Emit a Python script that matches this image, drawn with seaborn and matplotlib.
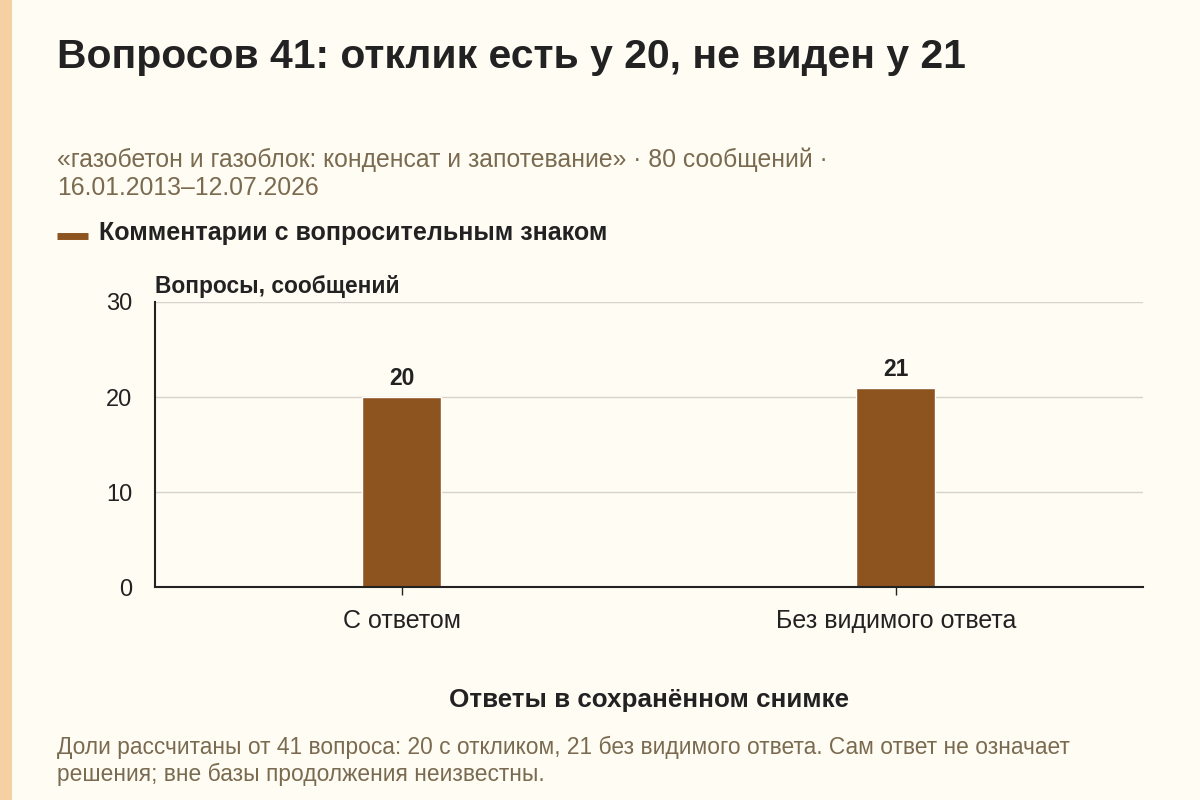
import matplotlib
matplotlib.use("Agg")
import matplotlib.pyplot as plt
import seaborn as sns
import pandas as pd
from matplotlib.lines import Line2D
from matplotlib.patches import Rectangle

categories = ["С ответом", "Без видимого ответа"]
values = [20, 21]
y_ticks = [0, 10, 20, 30]

title = "Вопросов 41: отклик есть у 20, не виден у 21"
subtitle = "«газобетон и газоблок: конденсат и запотевание» · 80 сообщений ·\n16.01.2013–12.07.2026"
legend_label = "Комментарии с вопросительным знаком"
y_label = "Вопросы, сообщений"
x_label = "Ответы в сохранённом снимке"
note = ("Доли рассчитаны от 41 вопроса: 20 с откликом, 21 без видимого ответа. Сам ответ не означает\n"
        "решения; вне базы продолжения неизвестны.")

bg = "#FFFCF4"
bar_color = "#8E541F"
dark = "#222222"
muted = "#7A6A4F"

sns.set_theme(style="white")
plt.rcParams["font.family"] = ["Liberation Sans", "DejaVu Sans"]

df = pd.DataFrame({"cat": categories, "val": values})

fig = plt.figure(figsize=(12, 8), dpi=100, facecolor=bg)
ax = fig.add_axes([0.129, 0.266, 0.8235, 0.3565], facecolor=bg)

sns.barplot(data=df, x="cat", y="val", color=bar_color, width=0.16, ax=ax, saturation=1)

ax.set_xlim(-0.5, 1.5)
ax.set_ylim(0, 30)
ax.set_yticks(y_ticks)
ax.yaxis.grid(True, color="#D8D3CA", linewidth=1)
ax.set_axisbelow(True)
for s in ["top", "right"]:
    ax.spines[s].set_visible(False)
ax.spines["left"].set_color(dark)
ax.spines["bottom"].set_color(dark)
ax.spines["left"].set_linewidth(1.5)
ax.spines["bottom"].set_linewidth(1.5)
ax.tick_params(axis="y", length=0, labelsize=17, labelcolor=dark, pad=16)
ax.tick_params(axis="x", length=6, width=1, color=dark, labelsize=18, labelcolor=dark, pad=10, bottom=True)
ax.set_xlabel("")
ax.set_ylabel("")

for p, v in zip(ax.patches, values):
    ax.annotate(str(v), (p.get_x() + p.get_width() / 2, p.get_height()),
                xytext=(0, 5), textcoords="offset points", ha="center", va="bottom",
                fontsize=16.5, fontweight="bold", color=dark)

# left accent strip
fig.patches.append(Rectangle((0, 0), 12 / 1200, 1, transform=fig.transFigure,
                             facecolor="#F5D0A2", edgecolor="none"))

fig.text(57 / 1200, 1 - 57 / 800, title, fontsize=29.4, fontweight="bold", color=dark, va="center")
fig.text(57 / 1200, 1 - 174 / 800, subtitle, fontsize=17.8, color=muted, va="center", linespacing=1.2)

fig.add_artist(Line2D([57 / 1200, 88 / 1200], [1 - 236 / 800] * 2, transform=fig.transFigure,
                      color=bar_color, linewidth=5, solid_capstyle="butt"))
fig.text(99 / 1200, 1 - 233 / 800, legend_label, fontsize=18, fontweight="bold", color=dark, va="center")

fig.text(155 / 1200, 1 - 286 / 800, y_label, fontsize=16.4, fontweight="bold", color=dark, va="center")
fig.text(649 / 1200, 1 - 700 / 800, x_label, fontsize=18.7, fontweight="bold", color=dark,
         va="center", ha="center")
fig.text(57 / 1200, 1 - 761 / 800, note, fontsize=16.4, color=muted, va="center", linespacing=1.25)

fig.savefig("out.png", dpi=100, facecolor=bg)
